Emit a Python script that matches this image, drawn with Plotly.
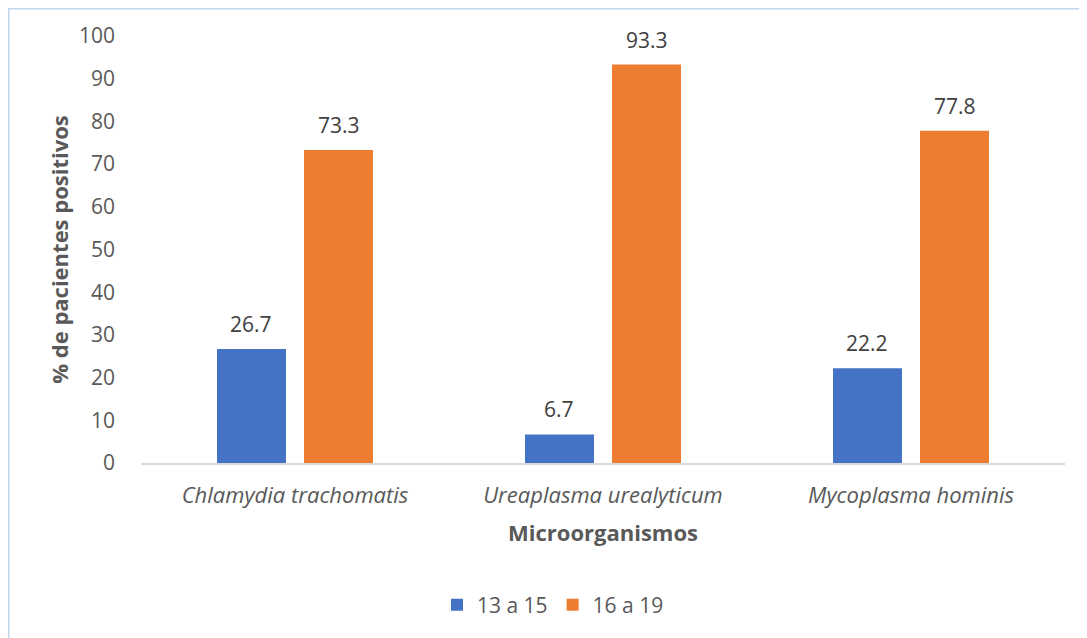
import plotly.graph_objects as go

categories = ["Chlamydia trachomatis", "Ureaplasma urealyticum", "Mycoplasma hominis"]
series_names = ["13 a 15", "16 a 19"]
values_13_15 = [26.7, 6.7, 22.2]
values_16_19 = [73.3, 93.3, 77.8]
y_ticks = [0, 10, 20, 30, 40, 50, 60, 70, 80, 90, 100]

colors = ["#4472C4", "#ED7D31"]
W, H = 1087, 638
OFF = 8  # page body offset
ml, mr, mt = 141 - OFF, 1087 - (1065 - OFF), 36 - OFF
mb = H - (463.5 - OFF)
bargap = 0.435
bargroupgap = 0.207

FONT = "Open Sans"
FS = 21
fig = go.Figure()
for name, vals, col in zip(series_names, [values_13_15, values_16_19], colors):
    fig.add_trace(go.Bar(x=categories, y=vals, name=name, marker=dict(color=col, line=dict(width=0))))

# data labels
plot_w = W - ml - mr
cat_w = plot_w / len(categories)
slot = (1 - bargap) * cat_w / 2
for si, vals in enumerate([values_13_15, values_16_19]):
    shift = (si - 0.5) * slot
    for c, v in zip(categories, vals):
        fig.add_annotation(x=c, y=v, text=f"{v:.1f}", showarrow=False, xshift=shift, yshift=25,
                           font=dict(family=FONT, size=FS, color="#404040"))

# chart border (left and top edges visible)
plot_h = H - mt - mb
px2x = lambda px: (px - ml) / plot_w
py2y = lambda py: (H - mb - py) / plot_h
fig.add_shape(type="rect", xref="paper", yref="paper", x0=px2x(0.75), y0=py2y(H + 50), x1=px2x(W + 50), y1=py2y(0.75),
              line=dict(color="#BDD7EE", width=1.5), fillcolor="rgba(0,0,0,0)", layer="below")

fig.update_layout(
    width=W, height=H,
    margin=dict(l=ml, r=mr, t=mt, b=mb, autoexpand=False),
    paper_bgcolor="white", plot_bgcolor="white",
    barmode="group", bargap=bargap, bargroupgap=bargroupgap,
    font=dict(family=FONT, size=FS, color="#595959"),
    showlegend=True,
    legend=dict(orientation="h", x=px2x(553 - OFF), xanchor="center", yref="container", y=(H - (605 - OFF)) / H,
                yanchor="middle", font=dict(family=FONT, size=FS, color="#595959"), itemclick=False),
    xaxis=dict(
        automargin=False,
        showline=True, linecolor="#D9D9D9", linewidth=1.5, showgrid=False, ticks="",
        tickfont=dict(family=FONT, size=22, color="#595959", style="italic"),
        ticklabelstandoff=12,
        title=dict(text="<b>Microorganismos</b>", font=dict(family=FONT, size=22, color="#595959"), standoff=17),
    ),
    yaxis=dict(
        automargin=False,
        range=[0, 100], tickvals=y_ticks, showgrid=False, zeroline=False, showline=False, ticks="",
        tickfont=dict(family=FONT, size=FS, color="#595959"), ticklabelstandoff=25,
        title=dict(text="<b>% de pacientes positivos</b>", font=dict(family=FONT, size=22, color="#595959"), standoff=4),
    ),
)
fig.write_html("out.html")
